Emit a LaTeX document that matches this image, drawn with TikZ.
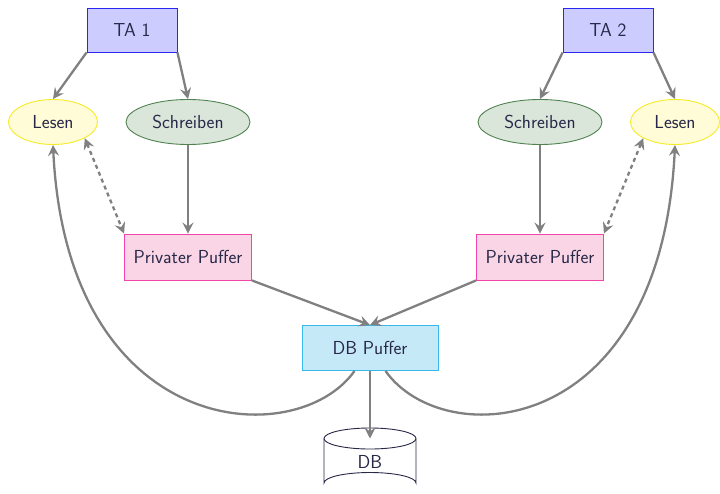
\documentclass[tikz,border=0pt]{standalone}
\usetikzlibrary{arrows.meta,shapes.geometric}
\definecolor{txt}{RGB}{40,40,72}
\definecolor{lnc}{RGB}{128,128,128}
\definecolor{tafill}{RGB}{204,204,255}
\definecolor{tadraw}{RGB}{40,40,240}
\definecolor{lsfill}{RGB}{255,252,215}
\definecolor{lsdraw}{RGB}{245,235,40}
\definecolor{scfill}{RGB}{218,230,218}
\definecolor{scdraw}{RGB}{80,130,80}
\definecolor{ppfill}{RGB}{249,213,229}
\definecolor{ppdraw}{RGB}{240,70,170}
\definecolor{dbfill}{RGB}{198,233,248}
\definecolor{dbdraw}{RGB}{55,185,235}
\tikzset{
  every node/.style={font=\sffamily\fontsize{18.8}{22}\selectfont, text=txt},
  tabox/.style={rectangle, draw=tadraw, fill=tafill, line width=0.9pt, minimum width=90pt, minimum height=44pt, inner sep=0pt},
  lsbox/.style={ellipse, draw=lsdraw, fill=lsfill, line width=0.9pt, minimum width=89pt, minimum height=45pt, inner sep=0pt},
  scbox/.style={ellipse, draw=scdraw, fill=scfill, line width=0.9pt, minimum width=124pt, minimum height=45pt, inner sep=0pt},
  ppbox/.style={rectangle, draw=ppdraw, fill=ppfill, line width=0.9pt, minimum width=127pt, minimum height=46pt, inner sep=0pt},
  dbpbox/.style={rectangle, draw=dbdraw, fill=dbfill, line width=0.9pt, minimum width=136pt, minimum height=45pt, inner sep=0pt},
  conn/.style={draw=lnc, line width=2.3pt, -{Stealth[length=11pt,width=11pt,inset=4pt]}},
  biconn/.style={draw=lnc, line width=2.3pt, dash pattern=on 4pt off 3.5pt, {Stealth[length=11pt,width=11pt,inset=4pt]}-{Stealth[length=11pt,width=11pt,inset=4pt]}},
  cyl/.style={draw=txt, line width=0.9pt}
}
\begin{document}
\begin{tikzpicture}[x=1pt,y=-1pt]
\useasboundingbox (0,0) rectangle (720,493);
% cylinder
\draw[cyl] (324,438.5) -- (324,483) arc[start angle=180,end angle=360,x radius=46,y radius=10.5] -- (416,438.5);
\draw[cyl] (370,438.5) ellipse[x radius=46,y radius=10.5];
\coordinate (dbtop) at (370,438.5);
\node (db) at (370,462) {DB};
% nodes
\node[tabox] (ta1) at (132,30) {TA 1};
\node[tabox] (ta2) at (608,30) {TA 2};
\node[lsbox] (ls1) at (53,122) {Lesen};
\node[scbox] (sc1) at (188,122) {Schreiben};
\node[scbox] (sc2) at (540,122) {Schreiben};
\node[lsbox] (ls2) at (675,122) {Lesen};
\node[ppbox] (pp1) at (188,257) {Privater Puffer};
\node[ppbox] (pp2) at (540,257) {Privater Puffer};
\node[dbpbox] (dbp) at (370,348) {DB Puffer};
% connectors
\draw[conn] (ta1.south west) -- (ls1.north);
\draw[conn] (ta1.south east) -- (sc1.north);
\draw[conn] (ta2.south west) -- (sc2.north);
\draw[conn] (ta2.south east) -- (ls2.north);
\draw[conn] (sc1.south) -- (pp1.north);
\draw[conn] (sc2.south) -- (pp2.north);
\draw[biconn] (ls1.south east) -- (pp1.north west);
\draw[biconn] (ls2.south west) -- (pp2.north east);
\draw[conn] (pp1.south east) -- (dbp.north);
\draw[conn] (pp2.south west) -- (dbp.north);
\draw[conn] (dbp.south) -- (dbtop);
\draw[conn] (dbp.236) .. controls +(-58,82) and +(14,295) .. (ls1.south);
\draw[conn] (dbp.-56) .. controls +(58,82) and +(-14,295) .. (ls2.south);
\end{tikzpicture}
\end{document}
